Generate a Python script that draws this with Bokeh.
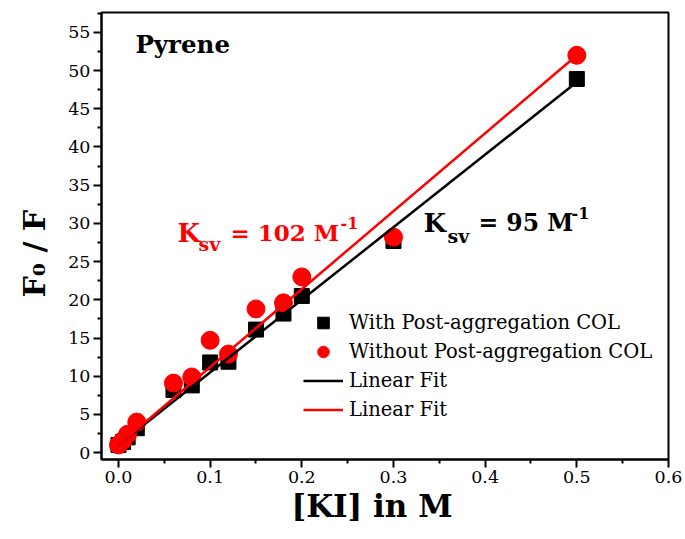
from bokeh.plotting import figure
from bokeh.models import (FixedTicker, NumeralTickFormatter, Legend, LegendItem,
                          Label, Range1d, Title)
from bokeh.embed import file_html
from bokeh.resources import INLINE

# ---- data ----
ki_conc = [0.0, 0.005, 0.01, 0.02, 0.06, 0.08, 0.10, 0.12, 0.15, 0.18, 0.20, 0.30, 0.50]
with_col = [1.0, 1.4, 2.0, 3.2, 8.2, 8.8, 11.8, 11.9, 16.1, 18.2, 20.5, 27.7, 48.9]
without_col = [1.0, 1.6, 2.4, 4.0, 9.1, 9.9, 14.7, 12.9, 18.8, 19.6, 23.0, 28.2, 52.0]

fit_x = [0.0, 0.5]
ksv_with = 95.0
ksv_without = 102.0
fit_intercept = 1.0
fit_with = [fit_intercept + ksv_with * x for x in fit_x]
fit_without = [fit_intercept + ksv_without * x for x in fit_x]

x_ticks = [0.0, 0.1, 0.2, 0.3, 0.4, 0.5, 0.6]
x_minor = [0.05, 0.15, 0.25, 0.35, 0.45, 0.55]
y_ticks = list(range(0, 60, 5))
y_minor = [2.5 + 5 * i for i in range(12)]

SERIF = "DejaVu Serif"
RED = "#FF0000"

p = figure(width=685, height=539, output_backend="svg", toolbar_location=None,
           x_range=Range1d(-0.0185, 0.6), y_range=Range1d(-0.9, 57.6),
           min_border_left=101, min_border_right=17, min_border_top=12,
           min_border_bottom=80)
p.grid.visible = False
p.outline_line_color = "black"
p.outline_line_width = 2
p.background_fill_color = "white"
p.border_fill_color = "white"

sq = p.scatter(ki_conc, with_col, marker="square", size=15, color="black")
ci = p.scatter(ki_conc, without_col, marker="circle", size=18, color=RED)
l1 = p.line(fit_x, fit_with, line_color="black", line_width=2.5)
l2 = p.line(fit_x, fit_without, line_color=RED, line_width=2.5)

for ax in (p.xaxis[0], p.yaxis[0]):
    ax.axis_line_width = 2
    ax.major_tick_line_width = 2
    ax.minor_tick_line_width = 2
    ax.major_tick_out = 8
    ax.major_tick_in = 0
    ax.minor_tick_out = 4
    ax.minor_tick_in = 0
    ax.major_label_text_font = SERIF
    ax.major_label_text_font_size = "17.5px"
    ax.major_label_text_color = "black"
    ax.major_label_standoff = 3

p.xaxis[0].ticker = FixedTicker(ticks=x_ticks, minor_ticks=x_minor)
p.xaxis[0].formatter = NumeralTickFormatter(format="0.0")
p.yaxis[0].ticker = FixedTicker(ticks=y_ticks, minor_ticks=y_minor)

# axis titles as side-panel titles so they can be nudged like the reference
p.add_layout(Title(text="[KI] in M", align="left", offset=190, standoff=0,
                   text_font=SERIF, text_font_style="bold", text_font_size="31px",
                   text_color="black"), "below")
p.add_layout(Title(text="F\u2080 / F", align="left", offset=162, standoff=27,
                   text_font=SERIF, text_font_style="bold", text_font_size="30px",
                   text_color="black"), "left")

legend = Legend(items=[
    LegendItem(label="With Post-aggregation COL", renderers=[sq]),
    LegendItem(label="Without Post-aggregation COL", renderers=[ci]),
    LegendItem(label="Linear Fit", renderers=[l1]),
    LegendItem(label="Linear Fit", renderers=[l2]),
], location=(202, 35), border_line_alpha=0, background_fill_alpha=0,
    padding=0, margin=0, spacing=0, glyph_width=40, glyph_height=29,
    label_height=20, label_standoff=6, label_text_font=SERIF,
    label_text_font_size="19.5px", label_text_color="black")
p.add_layout(legend, "center")

# ---- annotations ----
p.add_layout(Label(x=0.0185, y=53.4, text="Pyrene", text_font=SERIF,
                   text_font_style="bold", text_font_size="24.5px",
                   text_color="black", text_baseline="alphabetic"))

def ksv_label(xk, yk, xs, ys, xe, ye, xp, yp, eq, color, eq_size):
    p.add_layout(Label(x=xk, y=yk, text="K", text_font=SERIF, text_font_style="bold",
                       text_font_size="26px", text_color=color, text_baseline="alphabetic"))
    p.add_layout(Label(x=xs, y=ys, text="sv", text_font=SERIF, text_font_style="bold",
                       text_font_size="19px", text_color=color, text_baseline="alphabetic"))
    p.add_layout(Label(x=xe, y=ye, text=eq, text_font=SERIF, text_font_style="bold",
                       text_font_size=eq_size, text_color=color, text_baseline="alphabetic"))
    p.add_layout(Label(x=xp, y=yp, text="-1", text_font=SERIF, text_font_style="bold",
                       text_font_size="16px", text_color=color, text_baseline="alphabetic"))

ksv_label(0.0644, 28.8, 0.0873, 27.36, 0.1222, 28.8, 0.2422, 30.1,
          "= %d M" % int(ksv_without), RED, "23px")
ksv_label(0.3327, 30.1, 0.3589, 28.4, 0.3927, 30.1, 0.4942, 31.4,
          "= %d M" % int(ksv_with), "black", "23.5px")

open("out.html", "w").write(file_html(p, INLINE))
